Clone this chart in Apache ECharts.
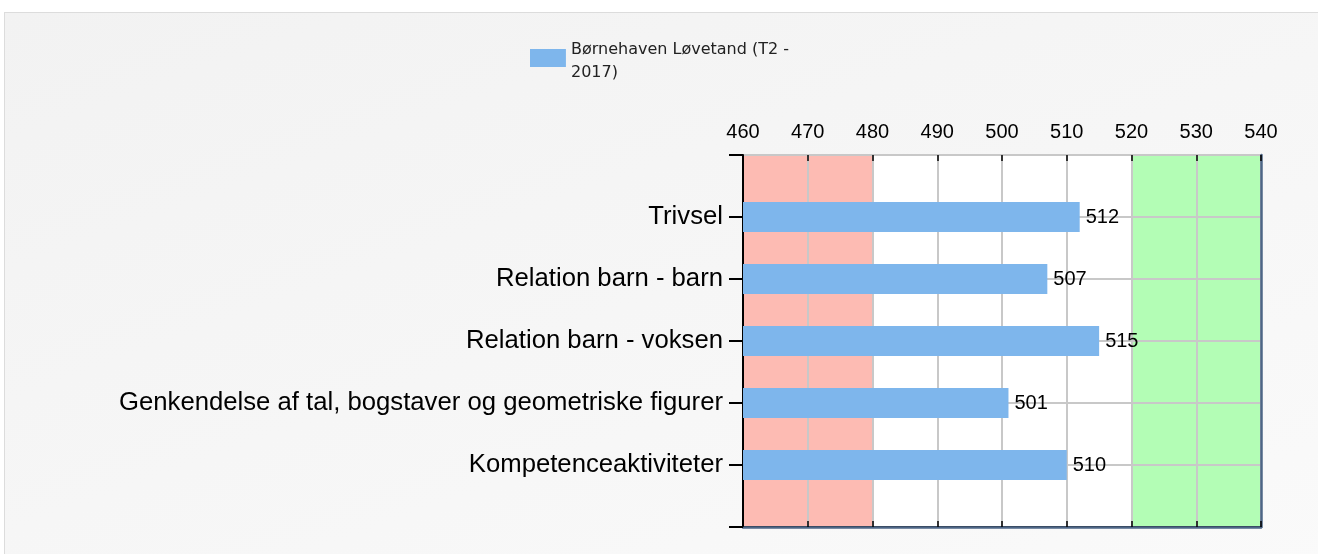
<!DOCTYPE html>
<html>
<head>
<meta charset="utf-8">
<script src="https://cdn.jsdelivr.net/npm/echarts@6/dist/echarts.min.js"></script>
<style>
html, body { margin: 0; padding: 0; background: #fff; }
#frame { position: absolute; left: 4px; top: 12px; width: 1330px; height: 560px; border: 1px solid #dcdcdc; background: linear-gradient(160deg, #f2f2f2, #fafafa); }
#main { position: absolute; left: 0; top: 0; width: 1318px; height: 554px; }
</style>
</head>
<body>
<div id="frame"></div>
<div id="main"></div>
<script>
var categories = ['Trivsel', 'Relation barn - barn', 'Relation barn - voksen', 'Genkendelse af tal, bogstaver og geometriske figurer', 'Kompetenceaktiviteter'];
var values = [512, 507, 515, 501, 510];
var seriesName = 'Børnehaven Løvetand (T2 -\n2017)';
var lowBand = [460, 480];
var midBand = [480, 520];
var highBand = [520, 540];

// empty slots at top and bottom so the bars sit on the split lines
var yData = [''].concat(categories, ['']);
var barData = [null].concat(values, [null]);

var frameColor = '#4d6686';

var chartDom = document.getElementById('main');
var myChart = echarts.init(chartDom);
var option;
option = {
	textStyle: {
		fontFamily: 'Liberation Sans'
	},
	legend: {
		left: 525,
		top: 33,
		// swatch sits in the upper part of a taller icon box so it lines up with the two text lines
		icon: 'path://M0,0H36V18H0Z M0,24H0.05V24.05H0Z',
		itemWidth: 36,
		itemHeight: 24,
		textStyle: {
			fontFamily: 'DejaVu Sans',
			fontSize: 16,
			color: '#222',
			lineHeight: 23
		},
		data: [seriesName]
	},
	grid: {
		left: 743,
		top: 155,
		width: 518,
		height: 372
	},
	xAxis: [{
		type: 'value',
		position: 'top',
		min: 460,
		max: 540,
		interval: 10,
		axisLine: { show: true, lineStyle: { color: '#000', width: 2 } },
		axisTick: { show: true, length: 6, lineStyle: { color: '#000', width: 1.5 } },
		axisLabel: { fontSize: 20, color: '#000', margin: 13 },
		splitLine: { show: true, lineStyle: { color: '#c8c8c8', width: 2 } }
	}, {
		// inner half of the crossing ticks
		type: 'value',
		position: 'top',
		min: 460,
		max: 540,
		interval: 10,
		axisLine: { show: false },
		axisTick: { show: true, inside: true, length: 6, lineStyle: { color: '#000', width: 1.5 } },
		axisLabel: { show: false },
		splitLine: { show: false }
	}, {
		// bottom frame line
		type: 'value',
		position: 'bottom',
		min: 460,
		max: 540,
		axisLine: { show: true, lineStyle: { color: frameColor, width: 2.5 } },
		axisTick: { show: false },
		axisLabel: { show: false },
		splitLine: { show: false }
	}],
	yAxis: [{
		type: 'category',
		inverse: true,
		boundaryGap: false,
		data: yData,
		axisLine: { show: true, lineStyle: { color: '#000', width: 2 } },
		axisTick: { show: true, length: 14, lineStyle: { color: '#000', width: 2 } },
		axisLabel: { fontSize: 25.7, color: '#000', margin: 20 },
		splitLine: { show: true, lineStyle: { color: '#c8c8c8', width: 2 } }
	}, {
		// right frame line
		type: 'value',
		position: 'right',
		min: 0,
		max: 1,
		axisLine: { show: true, lineStyle: { color: frameColor, width: 2.5 } },
		axisTick: { show: false },
		axisLabel: { show: false },
		splitLine: { show: false }
	}],
	series: [{
		name: 'bands',
		type: 'line',
		z: -1,
		silent: true,
		data: [],
		markArea: {
			silent: true,
			z: -1,
			data: [
				[{ xAxis: lowBand[0], itemStyle: { color: '#fdbbb3', opacity: 1 } }, { xAxis: lowBand[1] }],
				[{ xAxis: midBand[0], itemStyle: { color: '#ffffff', opacity: 1 } }, { xAxis: midBand[1] }],
				[{ xAxis: highBand[0], itemStyle: { color: '#b3fdb5', opacity: 1 } }, { xAxis: highBand[1] }]
			]
		}
	}, {
		name: seriesName,
		type: 'bar',
		barWidth: 30,
		data: barData,
		itemStyle: { color: '#7eb6ec' },
		label: {
			show: true,
			position: 'right',
			distance: 6,
			fontSize: 20,
			color: '#000'
		}
	}]
};
option && myChart.setOption(option);
</script>
</body>
</html>
